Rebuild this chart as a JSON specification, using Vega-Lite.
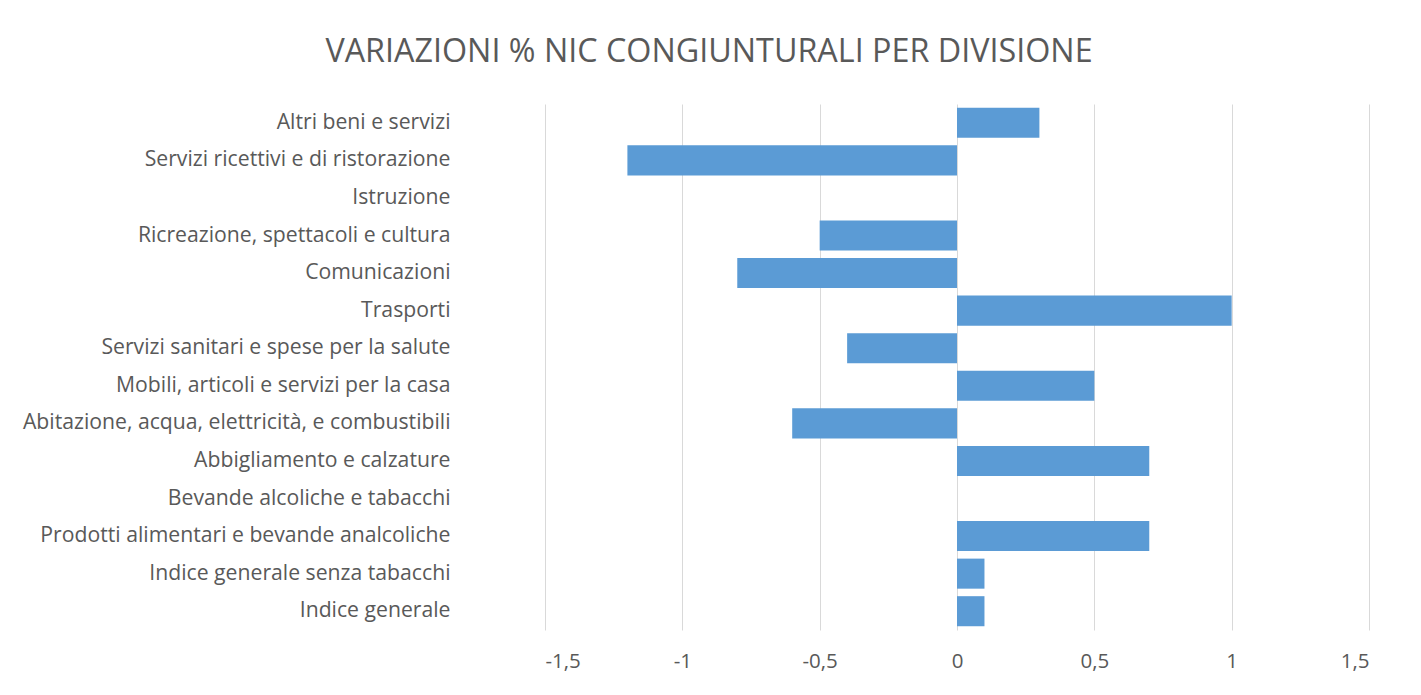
{
  "$schema": "https://vega.github.io/schema/vega-lite/v6.json",
  "autosize": {"type": "none"},
  "width": 824,
  "height": 526,
  "padding": {"left": 545, "top": 104, "right": 52, "bottom": 65},
  "background": "white",
  "title": {
    "text": "VARIAZIONI % NIC CONGIUNTURALI PER DIVISIONE",
    "font": "Open Sans",
    "fontSize": 32.3,
    "fontWeight": "normal",
    "color": "#595959",
    "anchor": "middle",
    "dx": -248,
    "offset": 36
  },
  "data": {
    "values": [
      {"divisione": "Altri beni e servizi", "variazione": 0.3},
      {"divisione": "Servizi ricettivi e di ristorazione", "variazione": -1.2},
      {"divisione": "Istruzione", "variazione": 0},
      {"divisione": "Ricreazione, spettacoli e cultura", "variazione": -0.5},
      {"divisione": "Comunicazioni", "variazione": -0.8},
      {"divisione": "Trasporti", "variazione": 1.0},
      {"divisione": "Servizi sanitari e spese per la salute", "variazione": -0.4},
      {"divisione": "Mobili, articoli e servizi per la casa", "variazione": 0.5},
      {"divisione": "Abitazione, acqua, elettricità, e combustibili", "variazione": -0.6},
      {"divisione": "Abbigliamento e calzature", "variazione": 0.7},
      {"divisione": "Bevande alcoliche e tabacchi", "variazione": 0},
      {"divisione": "Prodotti alimentari e bevande analcoliche", "variazione": 0.7},
      {"divisione": "Indice generale senza tabacchi", "variazione": 0.1},
      {"divisione": "Indice generale", "variazione": 0.1}
    ]
  },
  "mark": {"type": "bar", "color": "#5B9BD5"},
  "encoding": {
    "y": {
      "field": "divisione",
      "type": "nominal",
      "sort": null,
      "title": null,
      "scale": {"paddingInner": 0.2, "paddingOuter": 0.1},
      "axis": {
        "domain": false,
        "ticks": false,
        "grid": false,
        "labelFont": "Open Sans",
        "labelFontSize": 21.2,
        "labelColor": "#595959",
        "labelPadding": 95,
        "labelLimit": 600
      }
    },
    "x": {
      "field": "variazione",
      "type": "quantitative",
      "title": null,
      "scale": {"domain": [-1.5, 1.5], "nice": false},
      "axis": {
        "values": [-1.5, -1, -0.5, 0, 0.5, 1, 1.5],
        "labelExpr": "replace(toString(datum.value), '.', ',')",
        "domain": false,
        "ticks": false,
        "grid": true,
        "gridColor": "#d9d9d9",
        "labelFont": "Open Sans",
        "labelFontSize": 20.5,
        "labelColor": "#595959",
        "labelPadding": 21
      }
    }
  },
  "config": {"view": {"stroke": null}}
}
